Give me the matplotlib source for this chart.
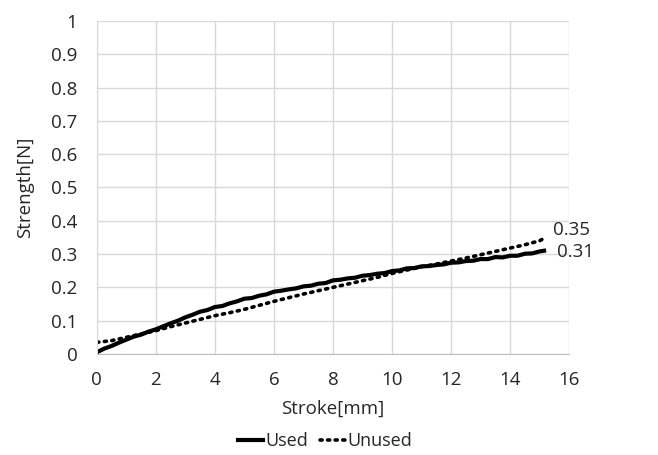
import numpy as np
import matplotlib.pyplot as plt

plt.rcParams['font.family'] = ['Open Sans', 'DejaVu Sans']

# Stroke [mm] vs Strength [N]
stroke_used = [0.0, 0.25, 0.5, 0.75, 1.0, 1.25, 1.5, 1.75, 2.0, 2.25, 2.5, 2.75,
               3.0, 3.25, 3.5, 3.75, 4.0, 4.25, 4.5, 4.75, 5.0, 5.25, 5.5, 5.75,
               6.0, 6.25, 6.5, 6.75, 7.0, 7.25, 7.5, 7.75, 8.0, 8.25, 8.5, 8.75,
               9.0, 9.25, 9.5, 9.75, 10.0, 10.25, 10.5, 10.75, 11.0, 11.25, 11.5,
               11.75, 12.0, 12.25, 12.5, 12.75, 13.0, 13.25, 13.5, 13.75, 14.0,
               14.25, 14.5, 14.75, 15.0, 15.15]
strength_used = [0.005, 0.016, 0.024, 0.034, 0.043, 0.052, 0.058, 0.067, 0.074, 0.083,
                 0.092, 0.1, 0.11, 0.118, 0.127, 0.132, 0.141, 0.144, 0.152, 0.158,
                 0.166, 0.168, 0.175, 0.179, 0.187, 0.19, 0.194, 0.197, 0.203, 0.205,
                 0.211, 0.213, 0.221, 0.223, 0.227, 0.229, 0.235, 0.237, 0.241, 0.243,
                 0.249, 0.251, 0.257, 0.258, 0.263, 0.264, 0.267, 0.269, 0.274, 0.275,
                 0.279, 0.28, 0.285, 0.285, 0.291, 0.29, 0.295, 0.295, 0.301, 0.302,
                 0.308, 0.31]

stroke_unused = [0.0, 0.5, 1.0, 1.5, 2.0, 2.5, 3.0, 3.5, 4.0, 4.5, 5.0, 5.5, 6.0,
                 6.5, 7.0, 7.5, 8.0, 8.5, 9.0, 9.5, 10.0, 10.5, 11.0, 11.5, 12.0,
                 12.5, 13.0, 13.5, 14.0, 14.5, 15.0, 15.2]
strength_unused = [0.035, 0.04, 0.05, 0.06, 0.07, 0.082, 0.093, 0.104, 0.115, 0.124,
                   0.134, 0.146, 0.158, 0.169, 0.18, 0.19, 0.2, 0.21, 0.22, 0.23,
                   0.242, 0.252, 0.262, 0.27, 0.279, 0.288, 0.298, 0.308, 0.318,
                   0.328, 0.34, 0.35]

fig = plt.figure(figsize=(6.58, 4.55), dpi=100)
ax = fig.add_axes([0.147, 0.222, 0.718, 0.732])

txt = '#262626'

ax.plot(stroke_used, strength_used, color='black', lw=3.0, label='Used')
ax.plot(stroke_unused, strength_unused, color='black', lw=2.6, linestyle=(0, (0.6, 1.5)),
        dash_capstyle='round', label='Unused')

ax.text(stroke_unused[-1] + 0.25, strength_unused[-1] - 0.005, '0.35', fontsize=13.5,
        va='bottom', ha='left', color=txt)
ax.text(stroke_used[-1] + 0.45, strength_used[-1] - 0.005, '0.31', fontsize=13.5,
        va='center', ha='left', color=txt)

ax.set_xlim(0, 16)
ax.set_ylim(0, 1)
ax.set_xticks(np.arange(0, 17, 2))
ax.set_yticks(np.arange(0, 1.01, 0.1))
ax.set_yticklabels(['0', '0.1', '0.2', '0.3', '0.4', '0.5', '0.6', '0.7', '0.8', '0.9', '1'])
ax.grid(True, color='#d9d9d9', lw=1)
ax.set_axisbelow(True)
for s in ['top', 'right']:
    ax.spines[s].set_visible(False)
ax.spines['left'].set_color('#d9d9d9')
ax.spines['bottom'].set_color('#bfbfbf')
ax.tick_params(length=0, labelsize=13.5, colors=txt)
ax.tick_params(axis='x', pad=12)
ax.tick_params(axis='y', pad=14)

ax.set_xlabel('Stroke[mm]', fontsize=13.5, color=txt, labelpad=8)
ax.set_ylabel('Strength[N]', fontsize=13.5, color=txt, labelpad=12)

h, l = ax.get_legend_handles_labels()
fig.legend(h, l, loc='center', bbox_to_anchor=(0.494, 0.03), ncol=2, frameon=False,
           fontsize=13, handlelength=1.4, handletextpad=0.1, columnspacing=0.7,
           labelcolor=txt)

fig.savefig('out.png', dpi=100)
